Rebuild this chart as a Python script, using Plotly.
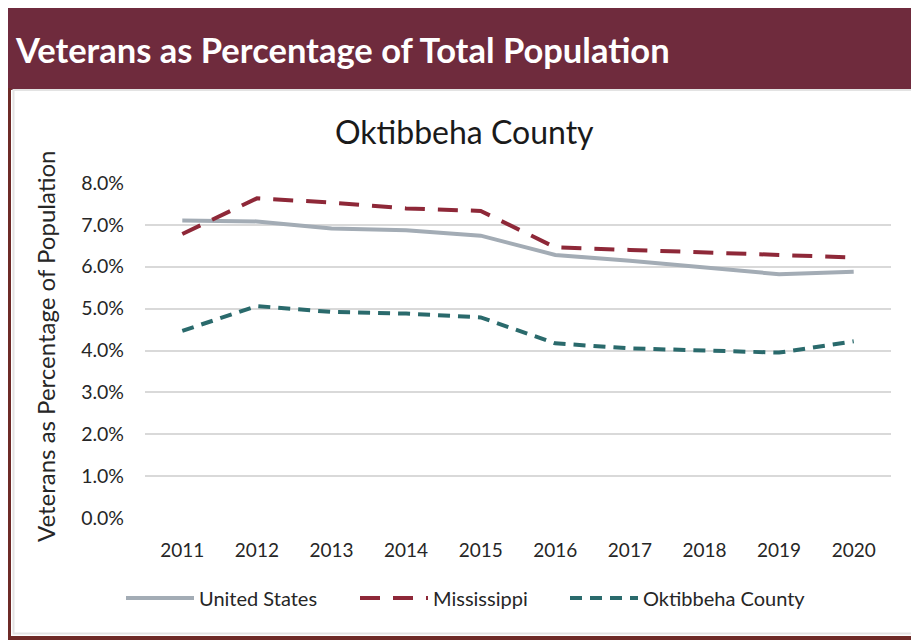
import plotly.graph_objects as go

years = ["2011", "2012", "2013", "2014", "2015", "2016", "2017", "2018", "2019", "2020"]
us_pct = [7.10, 7.08, 6.91, 6.87, 6.74, 6.28, 6.14, 5.97, 5.82, 5.88]
ms_pct = [6.78, 7.63, 7.53, 7.39, 7.33, 6.46, 6.40, 6.34, 6.29, 6.22]
ok_pct = [4.47, 5.06, 4.92, 4.88, 4.79, 4.17, 4.05, 4.01, 3.95, 4.22]
y_ticks = [0, 1, 2, 3, 4, 5, 6, 7, 8]

# the page body has an 8px margin: figure coordinates = page coordinates - 8
OFF = 8
W, H = 919 - OFF, 640 - OFF
L, R, T, B = 145 - OFF, 28, 182 - OFF, 121
PW, PH = W - L - R, H - T - B


def px(x):
    return (x - OFF - L) / PW


def py(y):
    return (H - B - (y - OFF)) / PH


FONT = "Lato, 'Open Sans', sans-serif"
TXT = "#262626"

fig = go.Figure()
fig.add_trace(go.Scatter(x=years, y=us_pct, name="United States", mode="lines",
                         line=dict(color="#A3ACB5", width=4), legend="legend"))
fig.add_trace(go.Scatter(x=years, y=ms_pct, name="Mississippi", mode="lines",
                         line=dict(color="#8E2838", width=4, dash="20px,13px"), legend="legend2"))
fig.add_trace(go.Scatter(x=years, y=ok_pct, name="Oktibbeha County", mode="lines",
                         line=dict(color="#2A6A6C", width=4, dash="12px,8px"), legend="legend3"))

shapes = [
    # header band
    dict(type="rect", xref="paper", yref="paper", x0=px(8), x1=px(919), y0=py(90), y1=py(8),
         fillcolor="#6F2B3D", line=dict(width=0), layer="below"),
    # left maroon border
    dict(type="rect", xref="paper", yref="paper", x0=px(8), x1=px(11), y0=py(640), y1=py(88),
         fillcolor="#6E2A27", line=dict(width=0), layer="below"),
    # bottom maroon border
    dict(type="rect", xref="paper", yref="paper", x0=px(8), x1=px(919), y0=py(640), y1=py(636),
         fillcolor="#6E2A27", line=dict(width=0), layer="below"),
    # inner light gray frame
    dict(type="rect", xref="paper", yref="paper", x0=px(13.5), x1=px(916.5), y0=py(633.5), y1=py(90),
         fillcolor="rgba(0,0,0,0)", line=dict(width=2, color="#E3E3E3"), layer="below"),
]

annotations = [
    dict(text="<b>Veterans as Percentage of Total Population</b>", xref="paper", yref="paper",
         x=px(13), y=py(49), xanchor="left", yanchor="middle", showarrow=False,
         font=dict(family=FONT, size=34.5, color="white")),
    dict(text="Oktibbeha County", xref="paper", yref="paper",
         x=px(464), y=py(131), xanchor="center", yanchor="middle", showarrow=False,
         font=dict(family=FONT, size=32, color="#1a1a1a")),
    dict(text="Veterans as Percentage of Population", xref="paper", yref="paper",
         x=px(45), y=py(347), xanchor="center", yanchor="middle", showarrow=False, textangle=-90,
         font=dict(family=FONT, size=24, color=TXT)),
]


def leg(xpage):
    return dict(orientation="h", x=px(xpage), xanchor="left", y=py(598), yanchor="middle",
                font=dict(family=FONT, size=20, color=TXT), itemwidth=68,
                bgcolor="rgba(0,0,0,0)")


fig.update_layout(
    width=W, height=H,
    margin=dict(l=L, r=R, t=T, b=B, pad=0),
    paper_bgcolor="white", plot_bgcolor="white",
    showlegend=True,
    legend=leg(121),
    legend2=leg(355),
    legend3=leg(565),
    shapes=shapes,
    annotations=annotations,
    xaxis=dict(type="category", range=[-0.5, 9.5], showgrid=False, zeroline=False,
               showline=False, ticks="", tickfont=dict(family=FONT, size=19, color=TXT),
               ticklabelstandoff=18),
    yaxis=dict(range=[-0.02, 8.02], tickvals=y_ticks, ticktext=[f"{v:.1f}%" for v in y_ticks],
               showgrid=True, gridcolor="#D9D9D9", gridwidth=1.5, zeroline=False, showline=False,
               ticks="", tickfont=dict(family=FONT, size=19.5, color=TXT),
               ticklabelstandoff=20),
)

fig.write_html("out.html")
